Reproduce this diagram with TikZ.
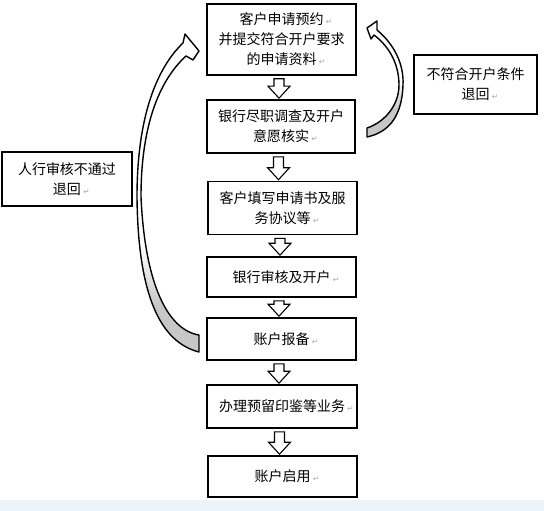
\documentclass[tikz,border=0pt]{standalone}
\usepackage{fontspec}
\newfontfamily\cjk{Noto Sans CJK SC}
\newfontfamily\symfont{DejaVu Sans}
\usetikzlibrary{calc}
\newcommand\pmark{\rlap{\,\textcolor{black!35}{\symfont\fontsize{7.5}{7.5}\selectfont ↵}}}
\newcommand\blockdown[2]{%
  \draw[hollow] let \p1=($(#1.south)+(-2.5pt,-3pt)$), \p2=($(#2.north)+(-2.5pt,1pt)$) in
    (\x1-5pt,\y1) -- (\x1+5pt,\y1) -- (\x1+5pt,\y2+12pt) -- (\x1+11pt,\y2+12pt)
    -- (\x1,\y2) -- (\x1-11pt,\y2+12pt) -- (\x1-5pt,\y2+12pt) -- cycle;}
\begin{document}
\begin{tikzpicture}[x=1pt,y=-1pt,
  stepbox/.style={draw=black, line width=1.6pt, fill=white, inner sep=0pt,
    align=center, font=\cjk\fontsize{14}{20}\selectfont},
  hollow/.style={draw=black, line width=1.1pt, fill=white, line join=miter},
  band/.style={draw=black, line width=1.4pt, line join=round}]
\useasboundingbox (0,0) rectangle (544,511);
\fill[white] (0,0) rectangle (544,511);
\fill[color={rgb,255:red,238;green,243;blue,250}] (0,500) rectangle (544,511);

% main column
\node[stepbox, minimum width=149, minimum height=71] (b1) at (281.5,39.5)
  {客户申请预约\pmark\\并提交符合开户要求\\的申请资料\pmark};
\node[stepbox, minimum width=148, minimum height=53] (b2) at (281,126.5)
  {银行尽职调查及开户\\意愿核实\pmark};
\node[stepbox, minimum width=149, minimum height=53] (b3) at (282.5,208)
  {客户填写申请书及服\\务协议等\pmark};
\node[stepbox, minimum width=149, minimum height=40] (b4) at (281.5,277)
  {银行审核及开户\pmark};
\node[stepbox, minimum width=149, minimum height=42] (b5) at (281.5,339)
  {账户报备\pmark};
\node[stepbox, minimum width=150, minimum height=43] (b6) at (282,406.5)
  {办理预留印鉴等业务\pmark};
\node[stepbox, minimum width=149, minimum height=41] (b7) at (282.5,476.5)
  {账户启用\pmark};

% side boxes
\node[stepbox, minimum width=123, minimum height=59] (r) at (475.5,84.5)
  {不符合开户条件\\退回\pmark};
\node[stepbox, minimum width=130, minimum height=54] (l) at (67,179)
  {人行审核不通过\\退回\pmark};

% hollow down arrows
\blockdown{b1}{b2}
\blockdown{b2}{b3}
\blockdown{b3}{b4}
\blockdown{b4}{b5}
\blockdown{b5}{b6}
\blockdown{b6}{b7}

% left curved return arrow (from b5 back to b1)
\def\leftband{(183,43) -- (185,34) -- (199,51) -- (193,60) -- (186,56)
  .. controls (162,78) and (141,120) .. (141,197)
  .. controls (145,285) and (168,330) .. (199,335) -- (199,352)
  .. controls (160,342) and (138,295) .. (137,197)
  .. controls (137,110) and (160,65) .. (183,43) -- cycle}
\fill[white] \leftband;
\begin{scope}
  \clip \leftband;
  \shade[top color=white, bottom color=black!22] (0,245) rectangle (544,305);
  \fill[black!22] (0,304) rectangle (544,400);
\end{scope}
\draw[band] \leftband;

% right curved return arrow (from b2 back to b1)
\def\rightband{(377,30) -- (377,21) -- (367,28) -- (371,39) -- (374,35)
  .. controls (390,47) and (399,65) .. (399,85)
  .. controls (399,105) and (385,122) .. (367,128) -- (367,137)
  .. controls (390,132) and (402,115) .. (403,85)
  .. controls (404,65) and (395,45) .. (377,30) -- cycle}
\fill[white] \rightband;
\begin{scope}
  \clip \rightband;
  \shade[top color=white, bottom color=black!22] (0,80) rectangle (544,110);
  \fill[black!22] (0,109) rectangle (544,150);
\end{scope}
\draw[band] \rightband;
\end{tikzpicture}
\end{document}
